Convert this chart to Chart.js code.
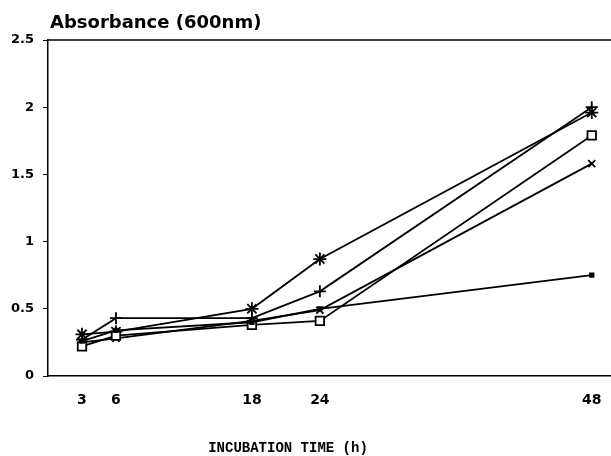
<!DOCTYPE html>
<html>
<head>
<meta charset="utf-8">
<script src="https://cdn.jsdelivr.net/npm/chart.js@4/dist/chart.umd.min.js"></script>
<style>
  html, body { margin: 0; padding: 0; background: #fff; }
  #wrap { width: 611px; height: 456px; }
</style>
</head>
<body>
<div id="wrap"><canvas id="absChart" width="611" height="456"></canvas></div>
<script>
// Incubation time (h)
const hours = [3, 6, 18, 24, 48];
const xTicks = [3, 6, 18, 24, 48];
const yTicks = [0, 0.5, 1, 1.5, 2, 2.5];

// Absorbance (600nm), one array per strain
const plusSeries = [0.27, 0.43, 0.43, 0.63, 2.00];
const starSeries = [0.31, 0.33, 0.50, 0.87, 1.96];
const squareSeries = [0.22, 0.30, 0.38, 0.41, 1.79];
const crossSeries = [0.25, 0.28, 0.41, 0.49, 1.58];
const dotSeries = [0.26, 0.34, 0.40, 0.50, 0.75];

const yTitle = 'Absorbance (600nm)';
const xTitle = 'INCUBATION TIME (h)';

const toPoints = vals => vals.map((v, i) => ({ x: hours[i], y: v }));

function makeSet(vals, style, radius, fill) {
    return {
        data: toPoints(vals),
        borderColor: '#000',
        borderWidth: 1.8,
        pointStyle: style,
        pointRadius: radius,
        pointBorderColor: '#000',
        pointBorderWidth: 1.8,
        pointBackgroundColor: fill,
        tension: 0,
        clip: false
    };
}

// Titles and the top frame line
const decorations = {
    id: 'decorations',
    afterDraw(chart) {
        const { ctx, chartArea } = chart;
        ctx.save();
        ctx.strokeStyle = '#000';
        ctx.lineWidth = 1.5;
        ctx.beginPath();
        ctx.moveTo(chartArea.left, chartArea.top);
        ctx.lineTo(chartArea.right, chartArea.top);
        ctx.stroke();

        ctx.fillStyle = '#000';
        ctx.font = 'bold 18px "DejaVu Sans"';
        ctx.textAlign = 'left';
        ctx.textBaseline = 'alphabetic';
        ctx.fillText(yTitle, chartArea.left + 2, 28);

        ctx.font = 'bold 14px "Liberation Mono"';
        ctx.textAlign = 'center';
        ctx.fillText(xTitle, 288, 452);
        ctx.restore();
    }
};

new Chart(document.getElementById('absChart'), {
    type: 'line',
    data: {
        datasets: [
            makeSet(dotSeries, 'rect', 2.5, '#000'),
            makeSet(squareSeries, 'rect', 6, '#fff'),
            makeSet(crossSeries, 'crossRot', 5, '#000'),
            makeSet(plusSeries, 'cross', 6, '#000'),
            makeSet(starSeries, 'star', 6.5, '#000')
        ]
    },
    options: {
        responsive: false,
        animation: false,
        layout: { autoPadding: false, padding: { top: 40, right: 0, left: 0, bottom: 0 } },
        plugins: {
            legend: { display: false },
            tooltip: { enabled: false }
        },
        scales: {
            x: {
                type: 'linear',
                min: 0,
                max: 49.7,
                afterBuildTicks: s => { s.ticks = xTicks.map(v => ({ value: v })); },
                afterFit: s => { s.height = 80; },
                grid: { display: false },
                border: { display: true, color: '#000', width: 1.5 },
                ticks: {
                    color: '#000',
                    padding: 8,
                    maxRotation: 0,
                    autoSkip: false,
                    callback: v => String(v),
                    font: { family: 'DejaVu Sans', weight: 'bold', size: 14 }
                }
            },
            y: {
                min: 0,
                max: 2.5,
                afterBuildTicks: s => { s.ticks = yTicks.map(v => ({ value: v })); },
                afterFit: s => { s.width = 48; },
                grid: {
                    drawOnChartArea: false,
                    drawTicks: true,
                    tickLength: 5,
                    color: '#000'
                },
                border: { display: true, color: '#000', width: 1.5 },
                ticks: {
                    color: '#000',
                    padding: 9,
                    callback: v => String(v),
                    font: { family: 'DejaVu Sans', weight: 'bold', size: 13 }
                }
            }
        }
    },
    plugins: [decorations]
});
</script>
</body>
</html>
